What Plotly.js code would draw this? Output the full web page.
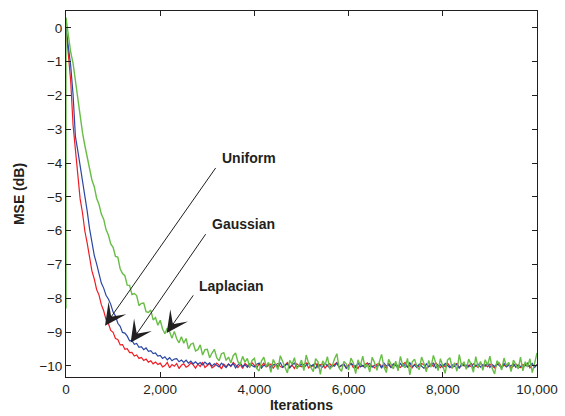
<!DOCTYPE html>
<html>
<head>
<meta charset="utf-8">
<script src="https://cdn.plot.ly/plotly-3.0.1.min.js"></script>
<style>html,body{margin:0;padding:0;background:#fff;}#chart{width:565px;height:416px;}</style>
</head>
<body>
<div id="chart"></div>
<script>
// Iterations: samples every 50 iterations from 0 to 10,000 (201 samples per series)
const iterStart = 0;
const iterStep = 50;

const uniformMSE = [
  0.00, -0.72, -1.58, -2.88, -3.62, -4.31, -5.06, -5.47, -6.01, -6.37,
  -6.80, -7.19, -7.43, -7.74, -7.90, -8.19, -8.37, -8.63, -8.75, -8.95,
  -9.01, -9.19, -9.22, -9.38, -9.37, -9.51, -9.49, -9.61, -9.60, -9.71,
  -9.68, -9.78, -9.75, -9.84, -9.80, -9.89, -9.85, -9.94, -9.89, -9.96,
  -9.92, -10.03, -9.99, -9.90, -10.06, -9.96, -10.01, -9.93, -10.08, -9.98,
  -9.94, -10.04, -10.00, -9.91, -9.97, -10.07, -9.95, -10.02, -9.89, -10.05,
  -9.99, -9.93, -10.06, -10.01, -9.92, -9.98, -10.09, -9.95, -10.03, -9.94,
  -10.02, -9.90, -9.97, -10.05, -9.96, -10.08, -9.93, -10.00, -10.04, -9.91,
  -9.98, -10.06, -9.94, -10.01, -9.92, -10.03, -9.99, -9.95, -10.07, -9.97,
  -9.93, -10.02, -10.05, -9.96, -9.90, -10.04, -9.98, -10.08, -9.94, -10.00,
  -10.03, -9.95, -9.91, -10.06, -9.99, -10.01, -9.92, -10.05, -9.97, -9.94,
  -10.07, -9.98, -9.93, -10.02, -9.96, -9.90, -10.04, -10.00, -9.95, -10.06,
  -9.97, -9.92, -10.05, -9.99, -10.08, -9.94, -10.01, -9.96, -9.91, -10.03,
  -10.00, -10.06, -9.95, -9.93, -10.02, -9.98, -10.07, -9.92, -10.04, -9.97,
  -9.94, -10.01, -10.05, -9.96, -9.90, -10.03, -9.99, -10.06, -9.95, -9.98,
  -10.04, -9.93, -9.97, -10.08, -10.00, -9.94, -10.02, -9.91, -9.99, -10.05,
  -9.96, -10.03, -9.92, -10.01, -10.06, -9.97, -9.93, -10.04, -10.00, -9.95,
  -10.07, -9.98, -10.02, -9.94, -9.99, -10.05, -9.91, -10.01, -9.96, -10.03,
  -9.95, -10.00, -10.06, -9.97, -9.92, -10.04, -9.98, -10.02, -9.93, -10.07,
  -9.99, -9.94, -10.03, -10.05, -9.96, -10.00, -9.92, -10.06, -9.98, -10.01,
  -9.97
];

const gaussianMSE = [
  0.00, -0.58, -1.12, -1.98, -3.22, -3.63, -4.05, -4.47, -5.01, -5.42,
  -5.94, -6.33, -6.73, -6.98, -7.27, -7.55, -7.70, -7.91, -8.02, -8.18,
  -8.41, -8.52, -8.74, -8.83, -9.01, -9.03, -9.12, -9.26, -9.25, -9.36,
  -9.34, -9.45, -9.43, -9.52, -9.47, -9.57, -9.55, -9.64, -9.62, -9.71,
  -9.69, -9.78, -9.73, -9.82, -9.76, -9.85, -9.80, -9.79, -9.88, -9.83,
  -9.90, -9.83, -9.92, -9.86, -9.94, -9.88, -9.95, -9.90, -9.97, -9.89,
  -9.96, -9.91, -10.01, -9.94, -9.98, -10.03, -9.92, -9.99, -10.05, -9.95,
  -10.00, -9.93, -10.06, -9.97, -9.91, -10.02, -9.96, -10.04, -9.94, -9.99,
  -10.03, -9.95, -9.92, -10.07, -9.98, -10.01, -9.93, -10.05, -9.97, -9.96,
  -10.02, -9.90, -10.04, -9.99, -9.94, -10.06, -9.97, -9.92, -10.03, -10.00,
  -9.95, -10.05, -9.98, -9.91, -10.02, -9.96, -10.08, -9.94, -10.00, -10.04,
  -9.93, -9.99, -10.06, -9.97, -10.01, -9.92, -10.04, -9.98, -9.95, -10.07,
  -10.01, -9.94, -9.97, -10.05, -9.91, -10.03, -9.99, -10.06, -9.96, -9.93,
  -10.04, -9.98, -10.02, -9.95, -10.07, -9.92, -10.00, -9.97, -10.05, -9.94,
  -9.99, -10.06, -9.93, -10.01, -9.96, -10.04, -9.91, -10.02, -9.98, -10.05,
  -9.95, -10.00, -10.07, -9.94, -10.03, -9.97, -9.92, -10.06, -10.01, -9.96,
  -10.04, -9.93, -9.99, -10.05, -9.97, -10.02, -9.95, -10.08, -9.94, -10.00,
  -9.98, -10.03, -9.92, -10.06, -10.00, -9.95, -10.04, -9.97, -10.01, -9.93,
  -10.05, -9.96, -10.02, -9.94, -9.99, -10.07, -9.93, -10.03, -9.98, -10.00,
  -9.94, -10.04, -9.97, -10.01, -10.06, -9.95, -10.02, -9.99, -9.93, -10.05,
  -9.96
];

const laplacianMSE = [
  0.30, -0.28, -0.72, -1.05, -1.60, -2.08, -2.62, -3.10, -3.48, -3.82,
  -4.12, -4.50, -4.70, -5.04, -5.22, -5.51, -5.66, -5.97, -6.13, -6.39,
  -6.49, -6.76, -6.78, -7.13, -7.27, -7.33, -7.61, -7.62, -7.89, -7.86,
  -7.92, -8.22, -8.15, -8.14, -8.40, -8.42, -8.35, -8.64, -8.57, -8.80,
  -8.65, -8.91, -9.05, -8.88, -8.99, -9.18, -8.98, -9.20, -9.32, -9.14,
  -9.33, -9.19, -9.50, -9.36, -9.33, -9.56, -9.52, -9.38, -9.68, -9.52,
  -9.51, -9.76, -9.62, -9.51, -9.76, -9.85, -9.64, -9.61, -9.84, -9.74,
  -9.91, -9.70, -9.62, -9.88, -9.95, -9.72, -9.89, -9.78, -10.04, -9.84,
  -9.78, -10.08, -10.15, -9.86, -9.74, -10.02, -9.90, -10.19, -9.81, -9.97,
  -10.11, -9.70, -9.89, -10.06, -10.21, -9.84, -9.95, -9.76, -10.09, -9.99,
  -9.83, -10.14, -9.68, -9.92, -10.04, -10.17, -9.79, -9.88, -10.25, -9.85,
  -9.98, -9.73, -10.10, -10.01, -9.80, -9.64, -10.07, -10.16, -9.87, -9.94,
  -10.12, -9.77, -9.91, -10.23, -9.82, -10.00, -9.71, -10.05, -9.96, -10.18,
  -9.75, -9.90, -10.13, -9.85, -9.66, -10.03, -10.20, -9.81, -9.97, -10.09,
  -9.86, -10.15, -9.72, -9.99, -10.06, -9.78, -10.27, -9.89, -9.80, -10.02,
  -10.11, -9.74, -9.93, -10.18, -9.84, -10.04, -9.69, -9.95, -10.14, -9.79,
  -9.98, -10.22, -9.83, -9.76, -10.07, -9.91, -10.16, -9.67, -10.01, -9.88,
  -10.10, -9.80, -9.96, -10.19, -9.73, -10.05, -9.87, -10.13, -9.82, -9.99,
  -9.71, -10.08, -10.24, -9.85, -9.94, -10.12, -9.77, -10.00, -9.90, -10.17,
  -9.83, -9.97, -10.09, -9.74, -10.15, -9.88, -10.03, -9.79, -10.20, -9.92,
  -9.62
];

// Laplacian curve's initial jump at iteration 0
const laplacianStartIter = [0, 0];
const laplacianStartMSE = [-8.3, 0.3];

const xTickVals = [0, 2000, 4000, 6000, 8000, 10000];
const xTickText = ['0', '2,000', '4,000', '6,000', '8,000', '10,000'];
const yTickVals = [0, -1, -2, -3, -4, -5, -6, -7, -8, -9, -10];
const yTickText = ['0', '\u22121', '\u22122', '\u22123', '\u22124', '\u22125', '\u22126', '\u22127', '\u22128', '\u22129', '\u221210'];

// Annotation labels and positions (iterations, dB)
const labelNames = ['Uniform', 'Gaussian', 'Laplacian'];
const labelTextIter = [3885, 3764, 3518];
const labelTextMSE = [-3.86, -5.80, -7.63];
const arrowTailIter = [3200, 2987, 2724];
const arrowTailMSE = [-4.10, -6.06, -7.87];
const arrowTipIter = [828, 1373, 2138];
const arrowTipMSE = [-8.81, -9.31, -9.03];

const FONT = 'Liberation Sans, Arial, Helvetica, sans-serif';
const INK = '#231f20';

const traces = [
  {x0: iterStart, dx: iterStep, y: uniformMSE, type: 'scatter', mode: 'lines',
   line: {color: '#ee1c24', width: 1.2}, name: 'Uniform', hoverinfo: 'skip'},
  {x0: iterStart, dx: iterStep, y: gaussianMSE, type: 'scatter', mode: 'lines',
   line: {color: '#2b46a3', width: 1.2}, name: 'Gaussian', hoverinfo: 'skip'},
  {x: laplacianStartIter, y: laplacianStartMSE, type: 'scatter', mode: 'lines',
   line: {color: '#67bd45', width: 1.4}, name: 'LaplacianStart', hoverinfo: 'skip'},
  {x0: iterStart, dx: iterStep, y: laplacianMSE, type: 'scatter', mode: 'lines',
   line: {color: '#67bd45', width: 1.4}, name: 'Laplacian', hoverinfo: 'skip'}
];

const annotations = [];
for (let i = 0; i < labelNames.length; i++) {
  annotations.push({
    x: arrowTipIter[i], y: arrowTipMSE[i], xref: 'x', yref: 'y',
    ax: arrowTailIter[i], ay: arrowTailMSE[i], axref: 'x', ayref: 'y',
    text: '', showarrow: true, arrowhead: 3, arrowsize: 3.6, arrowwidth: 1,
    arrowcolor: INK, standoff: 0, startstandoff: 0
  });
  annotations.push({
    x: labelTextIter[i], y: labelTextMSE[i], xref: 'x', yref: 'y',
    text: '<b>' + labelNames[i] + '</b>', showarrow: false,
    font: {family: FONT, size: 14, color: INK}, xanchor: 'center', yanchor: 'middle'
  });
}

const axisCommon = {
  showline: true, linecolor: INK, linewidth: 1, mirror: 'ticks',
  ticks: 'inside', ticklen: 5, tickwidth: 1, tickcolor: INK,
  showgrid: false, zeroline: false, tickmode: 'array',
  tickfont: {family: FONT, size: 13.5, color: INK}
};

const layout = {
  width: 565, height: 416,
  margin: {l: 66, r: 28, t: 11, b: 39, pad: 0},
  paper_bgcolor: '#fff', plot_bgcolor: '#fff',
  showlegend: false,
  xaxis: Object.assign({}, axisCommon, {
    range: [0, 10000], tickvals: xTickVals, ticktext: xTickText,
    title: {text: '<b>Iterations</b>', font: {family: FONT, size: 14, color: INK}, standoff: 2}
  }),
  yaxis: Object.assign({}, axisCommon, {
    range: [-10.33, 0.5], tickvals: yTickVals, ticktext: yTickText,
    title: {text: '<b>MSE (dB)</b>', font: {family: FONT, size: 14, color: INK}, standoff: 11}
  }),
  annotations: annotations
};

Plotly.newPlot('chart', traces, layout, {staticPlot: true, displayModeBar: false});
</script>
</body>
</html>
